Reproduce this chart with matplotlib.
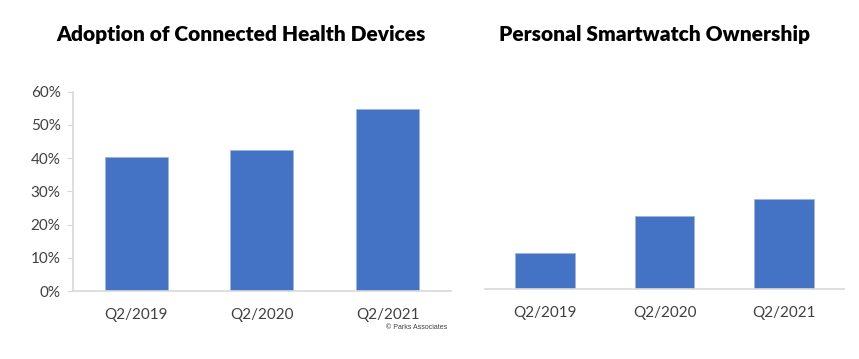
import matplotlib
matplotlib.use("Agg")
import matplotlib.pyplot as plt
from matplotlib.ticker import PercentFormatter

categories = ["Q2/2019", "Q2/2020", "Q2/2021"]
health_adoption = [40.4, 42.4, 54.9]
smartwatch_ownership = [10.9, 22.0, 27.0]
yticks = [0, 10, 20, 30, 40, 50, 60]

bar_color = "#4472C4"
axis_color = "#D9D9D9"
text_color = "#404040"

plt.rcParams['font.family'] = ['Lato', 'DejaVu Sans']

fig = plt.figure(figsize=(8.59, 3.59), dpi=100)

ax1 = fig.add_axes([0.085, 0.1894, 0.44, 0.5552])
ax2 = fig.add_axes([0.5646, 0.195, 0.418, 0.5552])

for ax, vals in ((ax1, health_adoption), (ax2, smartwatch_ownership)):
    x = range(len(categories))
    ax.bar(x, vals, width=0.5, color=bar_color, edgecolor="#9DB5E0", linewidth=0.6)
    ax.set_xlim(-0.5, len(categories) - 0.5)
    ax.set_ylim(0, 60)
    ax.set_xticks(list(x))
    ax.set_xticklabels(categories, fontsize=11, color=text_color)
    ax.tick_params(axis='x', length=0, pad=12)
    for s in ("top", "right"):
        ax.spines[s].set_visible(False)
    ax.spines["bottom"].set_color(axis_color)
    ax.spines["bottom"].set_linewidth(1.2)

ax1.set_yticks(yticks)
ax1.yaxis.set_major_formatter(PercentFormatter(decimals=0))
ax1.tick_params(axis='y', length=4, color=axis_color, labelsize=11, labelcolor=text_color, pad=5)
ax1.spines["left"].set_color(axis_color)
ax1.spines["left"].set_linewidth(1.2)

ax2.spines["left"].set_visible(False)
ax2.set_yticks([])

fig.text(0.281, 0.905, "Adoption of Connected Health Devices", ha="center", va="center",
         fontsize=15, fontweight="heavy", color="black")
fig.text(0.762, 0.905, "Personal Smartwatch Ownership", ha="center", va="center",
         fontsize=15, fontweight="heavy", color="black")
fig.text(0.449, 0.089, "© Parks Associates", ha="left", va="center", fontsize=5, color="#404040",
         family=['Liberation Sans', 'DejaVu Sans'])

fig.savefig("out.png", dpi=100, facecolor="white")
